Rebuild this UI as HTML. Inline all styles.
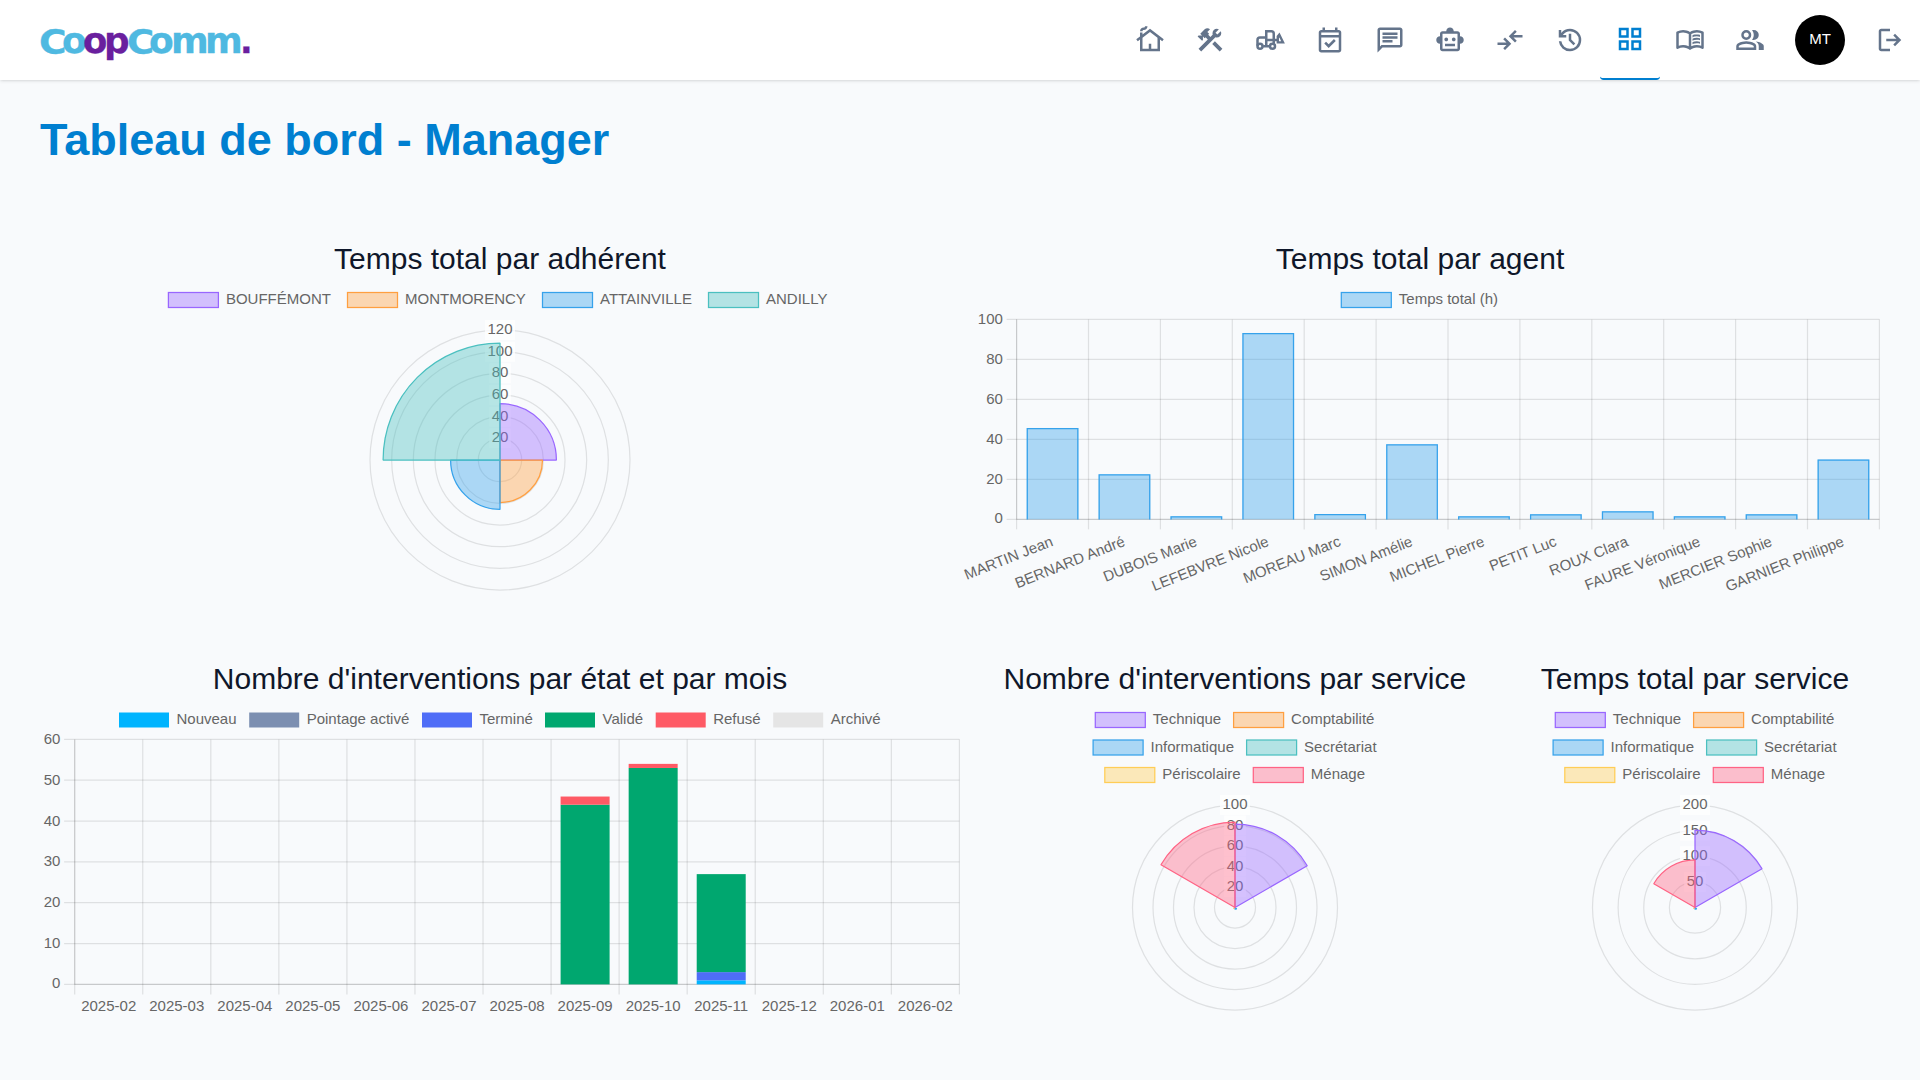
<!DOCTYPE html>
<html lang="fr"><head><meta charset="utf-8"><title>Tableau de bord - Manager</title>
<style>
html,body{margin:0;padding:0}
body{width:1920px;height:1080px;overflow:hidden;position:relative;background:#f8fafc;font-family:"Liberation Sans", sans-serif;color:#0f172a}
header{position:absolute;left:0;top:0;width:1920px;height:80px;background:#fff;box-shadow:0 1.25px 3.75px 0 rgba(0,0,0,.1),0 1.25px 2.5px -1.25px rgba(0,0,0,.1)}
.logo{position:absolute;left:0;top:0;width:260px;height:80px;font-family:"DejaVu Sans","Liberation Sans",sans-serif;font-weight:bold;white-space:nowrap}
.logo span{position:absolute;display:block;line-height:40px;transform-origin:left center;-webkit-text-stroke:0.3px currentColor}
.ic{position:absolute;top:25px}
.active{position:absolute;left:1600px;top:0;width:60px;height:78px;border-bottom:2px solid #007fd0;border-radius:3.75px}
.avatar{position:absolute;left:1795px;top:15px;width:50px;height:50px;border-radius:50%;background:#000;color:#fff;font-size:15px;line-height:47.8px;text-align:center}
h1{position:absolute;left:40px;top:112px;margin:0;font-size:45px;line-height:56px;font-weight:bold;color:#007fd0;white-space:nowrap}
.ct{position:absolute;margin:0;font-weight:normal;font-size:30px;line-height:40px;text-align:center;white-space:nowrap;color:#0f172a}
.charts{position:absolute;left:0;top:0}
</style></head><body>
<header>
<div class="logo" aria-label="CoopComm."><span style="left:39.0px;top:22.78px;font-size:33.2px;color:#4fb9e1;transform:scaleX(1.133)">C</span><span style="left:62.43px;top:21.49px;font-size:35.2px;color:#4fb9e1;transform:scaleX(1.023)">o</span><span style="left:83.46px;top:21.49px;font-size:35.2px;color:#6a1f9e;transform:scaleX(1.008)">o</span><span style="left:104.28px;top:21.49px;font-size:35.2px;color:#6a1f9e;transform:scaleX(1.019)">p</span><span style="left:127.37px;top:22.78px;font-size:33.2px;color:#4fb9e1;transform:scaleX(1.119)">C</span><span style="left:149.4px;top:21.49px;font-size:35.2px;color:#4fb9e1;transform:scaleX(1.024)">o</span><span style="left:170.61px;top:21.05px;font-size:35.2px;color:#4fb9e1;transform:scaleX(1.029)">m</span><span style="left:205.11px;top:21.05px;font-size:35.2px;color:#4fb9e1;transform:scaleX(1.029)">m</span><span style="left:239.52px;top:22.05px;font-size:33.2px;color:#6a1f9e;transform:scaleX(1.004)">.</span></div>
<nav>
<div class="active"></div>
<svg class="ic" style="left:1135px;color:#64748b" viewBox="0 0 24 24" width="30" height="30" fill="currentColor"><path d="M12 3 6 7.58V6H4v3.11L1 11.4l1.21 1.59L4 11.62V21h16v-9.38l1.79 1.36L23 11.4 12 3zm6 16h-5v-4h-2v4H6v-8.900l6-4.580 6 4.580V19zM10 1c0 1.660-1.340 3-3 3-.55 0-1 .45-1 1H4c0-1.660 1.340-3 3-3 .55 0 1-.45 1-1h2z"/></svg><svg class="ic" style="left:1195px;color:#64748b" viewBox="0 0 24 24" width="30" height="30" fill="currentColor"><path d="M13.783 15.172l2.121-2.121 5.996 5.996-2.121 2.121zM17.5 10c1.930 0 3.500-1.570 3.500-3.500 0-.58-.16-1.120-.41-1.600l-2.700 2.700-1.490-1.490 2.700-2.700c-.48-.25-1.020-.41-1.600-.41C15.570 3 14 4.570 14 6.500c0 .41.080.8.210 1.160l-1.850 1.850-1.780-1.780.71-.71-1.410-1.410L12 3.490c-1.170-1.170-3.070-1.170-4.240 0L4.220 7.030l1.410 1.410H2.810l-.71.71 3.540 3.540.71-.71V9.150l1.410 1.410.71-.71 1.780 1.780-7.410 7.410 2.120 2.120L16.340 9.790c.36.130.75.210 1.160.21z"/></svg><svg class="ic" style="left:1255px;color:#64748b" viewBox="0 0 24 24" width="30" height="30" fill="currentColor"><g fill="none" stroke="currentColor" stroke-width="2"><path d="M9 10H4a2 2 0 0 0-2 2v4.500"/><path d="M9 17V5h4a2 2 0 0 1 2 2v8"/><path d="M9 12h9"/><path d="M6.500 17h5"/><circle cx="4" cy="17" r="2"/><circle cx="14" cy="17" r="2"/></g><path fill-rule="evenodd" d="M17.300 14.700V8.800L19.600 5.900 23.900 14.700ZM19.200 12.900V10.300L19.500 9.900 20.900 12.900Z"/></svg><svg class="ic" style="left:1315px;color:#64748b" viewBox="0 -960 960 960" width="30" height="30" fill="currentColor"><path d="M438-226 296-368l58-58 84 84 168-168 58 58-226 226ZM200-80q-33 0-56.500-23.500T120-160v-560q0-33 23.500-56.500T200-800h40v-80h80v80h320v-80h80v80h40q33 0 56.500 23.500T840-720v560q0 33-23.500 56.500T760-80H200Zm0-80h560v-400H200v400Zm0-480h560v-80H200v80Zm0 0v-80 80Z"/></svg><svg class="ic" style="left:1375px;color:#64748b" viewBox="0 0 24 24" width="30" height="30" fill="currentColor"><path d="M4 4h16v12H5.170L4 17.170V4m0-2c-1.100 0-1.990.9-1.990 2L2 22l4-4h14c1.100 0 2-.9 2-2V4c0-1.100-.9-2-2-2H4zm2 10h8v2H6v-2zm0-3h12v2H6V9zm0-3h12v2H6V6z"/></svg><svg class="ic" style="left:1435px;color:#64748b" viewBox="0 0 24 24" width="30" height="30" fill="currentColor"><path d="M20 9V7c0-1.100-.9-2-2-2h-3c0-1.660-1.340-3-3-3S9 3.340 9 5H6c-1.100 0-2 .9-2 2v2c-1.660 0-3 1.340-3 3s1.340 3 3 3v4c0 1.100.9 2 2 2h12c1.100 0 2-.9 2-2v-4c1.660 0 3-1.340 3-3s-1.340-3-3-3zm-2 10H6V7h12v12zm-9-6c-.83 0-1.500-.67-1.500-1.500S8.170 10 9 10s1.500.67 1.500 1.500S9.830 13 9 13zm7.500-1.500c0 .83-.67 1.500-1.500 1.500s-1.500-.67-1.500-1.500.67-1.500 1.500-1.500 1.500.67 1.500 1.500zM8 15h8v2H8v-2z"/></svg><svg class="ic" style="left:1495px;color:#64748b" viewBox="0 -960 960 960" width="30" height="30" fill="currentColor"><path d="M320-160l-56-57 103-103H80v-80h287L264-503l56-57 200 200-200 200Zm320-240L440-600l200-200 56 57-103 103h287v80H593l103 103-56 57Z"/></svg><svg class="ic" style="left:1555px;color:#64748b" viewBox="0 -960 960 960" width="30" height="30" fill="currentColor"><path d="M480-120q-138 0-240.500-91.500T122-440h82q14 104 92.500 172T480-200q117 0 198.500-81.500T760-480q0-117-81.500-198.500T480-760q-69 0-129 32t-101 88h110v80H120v-240h80v94q51-64 124.500-99T480-840q75 0 140.500 28.500t114 77q48.500 48.500 77 114T840-480q0 75-28.500 140.500t-77 114q-48.500 48.500-114 77T480-120Zm112-192L440-464v-216h80v184l128 128-56 56Z"/></svg><svg class="ic" style="left:1615px;top:24px;color:#007fd0" viewBox="0 0 24 24" width="30" height="30" fill="currentColor"><path d="M3 3v8h8V3H3zm6 6H5V5h4v4zm-6 4v8h8v-8H3zm6 6H5v-4h4v4zm4-16v8h8V3h-8zm6 6h-4V5h4v4zm-6 4v8h8v-8h-8zm6 6h-4v-4h4v4z"/></svg><svg class="ic" style="left:1675px;color:#64748b" viewBox="0 -960 960 960" width="30" height="30" fill="currentColor"><path d="M560-564v-68q33-14 67.500-21t72.500-7q26 0 51 4t49 10v64q-24-9-48.500-13.500T700-600q-38 0-73 9.500T560-564Zm0 220v-68q33-14 67.500-21t72.500-7q26 0 51 4t49 10v64q-24-9-48.500-13.500T700-380q-38 0-73 9t-67 27Zm0-110v-68q33-14 67.500-21t72.500-7q26 0 51 4t49 10v64q-24-9-48.500-13.500T700-490q-38 0-73 9.500T560-454ZM260-320q47 0 91.500 10.500T440-278v-394q-41-24-87-36t-93-12q-36 0-71.500 7T120-692v396q35-12 69.500-18t70.500-6Zm260 42q44-21 88.500-31.500T700-320q36 0 70.500 6t69.500 18v-396q-33-14-68.500-21t-71.500-7q-47 0-93 12t-87 36v394Zm-40 118q-48-38-104-59t-116-21q-42 0-82.500 11T100-198q-21 11-40.500-1T40-234v-482q0-11 5.500-21T62-752q46-24 96-36t102-12q58 0 113.500 15T480-740q51-30 106.500-45T700-800q52 0 102 12t96 36q11 5 16.500 15t5.500 21v482q0 23-19.500 35t-40.500 1q-37-20-77.500-31T700-240q-60 0-116 21t-104 59ZM280-494Z"/></svg><svg class="ic" style="left:1735px;color:#64748b" viewBox="0 -960 960 960" width="30" height="30" fill="currentColor"><path d="M40-160v-112q0-34 17.500-62.500T104-378q62-31 126-46.500T360-440q66 0 130 15.500T616-378q29 15 46.500 43.500T680-272v112H40Zm720 0v-120q0-44-24.500-84.500T666-434q51 6 96 20.500t84 35.500q36 20 55 44.500t19 53.500v120H760ZM360-480q-66 0-113-47t-47-113q0-66 47-113t113-47q66 0 113 47t47 113q0 66-47 113t-113 47Zm400-160q0 66-47 113t-113 47q-11 0-28-2.500t-28-5.500q27-32 41.500-71t14.500-81q0-42-14.500-81T544-792q14-5 28-6.500t28-1.500q66 0 113 47t47 113ZM120-240h480v-32q0-11-5.500-20T580-306q-54-27-109-40.500T360-360q-56 0-111 13.500T140-306q-9 5-14.500 14t-5.500 20v32Zm240-320q33 0 56.500-23.500T440-640q0-33-23.500-56.500T360-720q-33 0-56.500 23.500T280-640q0 33 23.500 56.500T360-560Zm0 320Zm0-400Z"/></svg><svg class="ic" style="left:1875px;color:#64748b" viewBox="0 -960 960 960" width="30" height="30" fill="currentColor"><path d="M200-120q-33 0-56.500-23.500T120-200v-560q0-33 23.500-56.500T200-840h280v80H200v560h280v80H200Zm440-160-55-58 102-102H360v-80h327L585-622l55-58 200 200-200 200Z"/></svg>
<div class="avatar">MT</div>
</nav>
</header>
<main>
<h1>Tableau de bord - Manager</h1>
<h2 class="ct" style="left:40px;width:920px;top:239px">Temps total par adhérent</h2>
<h2 class="ct" style="left:960px;width:920px;top:239px">Temps total par agent</h2>
<h2 class="ct" style="left:40px;width:920px;top:659px">Nombre d'interventions par état et par mois</h2>
<h2 class="ct" style="left:1003.5px;width:460px;top:659px">Nombre d'interventions par service</h2>
<h2 class="ct" style="left:1465px;width:460px;top:659px">Temps total par service</h2>
<svg class="charts" width="1920" height="1080" viewBox="0 0 1920 1080" font-family='"Liberation Sans", sans-serif'><g>
<rect x="168.40" y="292.50" width="50" height="15" fill="rgba(153,102,255,0.4)" stroke="rgb(153,102,255)" stroke-width="1.25"/>
<text x="225.90" y="304.10" text-anchor="start" font-size="15" fill="#666" >BOUFFÉMONT</text>
<rect x="347.50" y="292.50" width="50" height="15" fill="rgba(255,159,64,0.4)" stroke="rgb(255,159,64)" stroke-width="1.25"/>
<text x="405.00" y="304.10" text-anchor="start" font-size="15" fill="#666" >MONTMORENCY</text>
<rect x="542.50" y="292.50" width="50" height="15" fill="rgba(54,162,235,0.4)" stroke="rgb(54,162,235)" stroke-width="1.25"/>
<text x="600.00" y="304.10" text-anchor="start" font-size="15" fill="#666" >ATTAINVILLE</text>
<rect x="708.50" y="292.50" width="50" height="15" fill="rgba(75,192,192,0.4)" stroke="rgb(75,192,192)" stroke-width="1.25"/>
<text x="766.00" y="304.10" text-anchor="start" font-size="15" fill="#666" >ANDILLY</text>
<circle cx="500" cy="460" r="21.67" fill="none" stroke="rgba(0,0,0,0.1)" stroke-width="1.25"/>
<circle cx="500" cy="460" r="43.33" fill="none" stroke="rgba(0,0,0,0.1)" stroke-width="1.25"/>
<circle cx="500" cy="460" r="65.00" fill="none" stroke="rgba(0,0,0,0.1)" stroke-width="1.25"/>
<circle cx="500" cy="460" r="86.67" fill="none" stroke="rgba(0,0,0,0.1)" stroke-width="1.25"/>
<circle cx="500" cy="460" r="108.33" fill="none" stroke="rgba(0,0,0,0.1)" stroke-width="1.25"/>
<circle cx="500" cy="460" r="130.00" fill="none" stroke="rgba(0,0,0,0.1)" stroke-width="1.25"/>
<rect x="489.16" y="428.33" width="21.68" height="20" fill="rgba(255,255,255,0.75)"/>
<rect x="489.16" y="406.67" width="21.68" height="20" fill="rgba(255,255,255,0.75)"/>
<rect x="489.16" y="385.00" width="21.68" height="20" fill="rgba(255,255,255,0.75)"/>
<rect x="489.16" y="363.33" width="21.68" height="20" fill="rgba(255,255,255,0.75)"/>
<rect x="484.99" y="341.67" width="30.02" height="20" fill="rgba(255,255,255,0.75)"/>
<rect x="484.99" y="320.00" width="30.02" height="20" fill="rgba(255,255,255,0.75)"/>
<text x="500.00" y="442.43" text-anchor="middle" font-size="15" fill="#666" >20</text>
<text x="500.00" y="420.77" text-anchor="middle" font-size="15" fill="#666" >40</text>
<text x="500.00" y="399.10" text-anchor="middle" font-size="15" fill="#666" >60</text>
<text x="500.00" y="377.43" text-anchor="middle" font-size="15" fill="#666" >80</text>
<text x="500.00" y="355.77" text-anchor="middle" font-size="15" fill="#666" >100</text>
<text x="500.00" y="334.10" text-anchor="middle" font-size="15" fill="#666" >120</text>
<path d="M500.00 403.60A56.40 56.40 0 0 1 556.40 460.00L500.00 460.00Z" fill="rgba(153,102,255,0.4)" stroke="rgb(153,102,255)" stroke-width="1.25" stroke-linejoin="bevel"/>
<path d="M542.50 460.00A42.50 42.50 0 0 1 500.00 502.50L500.00 460.00Z" fill="rgba(255,159,64,0.4)" stroke="rgb(255,159,64)" stroke-width="1.25" stroke-linejoin="bevel"/>
<path d="M500.00 509.40A49.40 49.40 0 0 1 450.60 460.00L500.00 460.00Z" fill="rgba(54,162,235,0.4)" stroke="rgb(54,162,235)" stroke-width="1.25" stroke-linejoin="bevel"/>
<path d="M383.10 460.00A116.90 116.90 0 0 1 500.00 343.10L500.00 460.00Z" fill="rgba(75,192,192,0.4)" stroke="rgb(75,192,192)" stroke-width="1.25" stroke-linejoin="bevel"/>
</g>
<g>
<rect x="1341.30" y="292.50" width="50" height="15" fill="rgba(54,162,235,0.4)" stroke="rgb(54,162,235)" stroke-width="1.25"/>
<text x="1398.80" y="304.10" text-anchor="start" font-size="15" fill="#666" >Temps total (h)</text>
<line x1="1016.60" y1="319.375" x2="1016.60" y2="529.375" stroke="rgba(0,0,0,0.1)" stroke-width="1.25"/>
<line x1="1088.50" y1="319.375" x2="1088.50" y2="529.375" stroke="rgba(0,0,0,0.1)" stroke-width="1.25"/>
<line x1="1160.40" y1="319.375" x2="1160.40" y2="529.375" stroke="rgba(0,0,0,0.1)" stroke-width="1.25"/>
<line x1="1232.30" y1="319.375" x2="1232.30" y2="529.375" stroke="rgba(0,0,0,0.1)" stroke-width="1.25"/>
<line x1="1304.20" y1="319.375" x2="1304.20" y2="529.375" stroke="rgba(0,0,0,0.1)" stroke-width="1.25"/>
<line x1="1376.10" y1="319.375" x2="1376.10" y2="529.375" stroke="rgba(0,0,0,0.1)" stroke-width="1.25"/>
<line x1="1448.00" y1="319.375" x2="1448.00" y2="529.375" stroke="rgba(0,0,0,0.1)" stroke-width="1.25"/>
<line x1="1519.90" y1="319.375" x2="1519.90" y2="529.375" stroke="rgba(0,0,0,0.1)" stroke-width="1.25"/>
<line x1="1591.80" y1="319.375" x2="1591.80" y2="529.375" stroke="rgba(0,0,0,0.1)" stroke-width="1.25"/>
<line x1="1663.70" y1="319.375" x2="1663.70" y2="529.375" stroke="rgba(0,0,0,0.1)" stroke-width="1.25"/>
<line x1="1735.60" y1="319.375" x2="1735.60" y2="529.375" stroke="rgba(0,0,0,0.1)" stroke-width="1.25"/>
<line x1="1807.50" y1="319.375" x2="1807.50" y2="529.375" stroke="rgba(0,0,0,0.1)" stroke-width="1.25"/>
<line x1="1879.40" y1="319.375" x2="1879.40" y2="529.375" stroke="rgba(0,0,0,0.1)" stroke-width="1.25"/>
<line x1="1006.60" y1="519.375" x2="1879.40" y2="519.375" stroke="rgba(0,0,0,0.1)" stroke-width="1.25"/>
<text x="1002.85" y="522.98" text-anchor="end" font-size="15" fill="#666" >0</text>
<line x1="1006.60" y1="479.375" x2="1879.40" y2="479.375" stroke="rgba(0,0,0,0.1)" stroke-width="1.25"/>
<text x="1002.85" y="483.98" text-anchor="end" font-size="15" fill="#666" >20</text>
<line x1="1006.60" y1="439.375" x2="1879.40" y2="439.375" stroke="rgba(0,0,0,0.1)" stroke-width="1.25"/>
<text x="1002.85" y="443.98" text-anchor="end" font-size="15" fill="#666" >40</text>
<line x1="1006.60" y1="399.375" x2="1879.40" y2="399.375" stroke="rgba(0,0,0,0.1)" stroke-width="1.25"/>
<text x="1002.85" y="403.98" text-anchor="end" font-size="15" fill="#666" >60</text>
<line x1="1006.60" y1="359.375" x2="1879.40" y2="359.375" stroke="rgba(0,0,0,0.1)" stroke-width="1.25"/>
<text x="1002.85" y="363.98" text-anchor="end" font-size="15" fill="#666" >80</text>
<line x1="1006.60" y1="319.375" x2="1879.40" y2="319.375" stroke="rgba(0,0,0,0.1)" stroke-width="1.25"/>
<text x="1002.85" y="323.98" text-anchor="end" font-size="15" fill="#666" >100</text>
<line x1="1016.60" y1="319.375" x2="1016.60" y2="519.375" stroke="rgba(0,0,0,0.1)" stroke-width="1.25"/>
<line x1="1016.60" y1="519.375" x2="1879.40" y2="519.375" stroke="rgba(0,0,0,0.1)" stroke-width="1.25"/>
<rect x="1026.67" y="427.98" width="51.77" height="91.40" fill="rgba(54,162,235,0.4)"/>
<path d="M1027.29 519.38V428.60H1077.81V519.38" fill="none" stroke="rgb(54,162,235)" stroke-width="1.25"/>
<text transform="translate(1049.25 533.12) rotate(-21.67)" x="0" y="13.10" text-anchor="end" font-size="15" fill="#666">MARTIN Jean</text>
<rect x="1098.57" y="474.27" width="51.77" height="45.10" fill="rgba(54,162,235,0.4)"/>
<path d="M1099.19 519.38V474.90H1149.71V519.38" fill="none" stroke="rgb(54,162,235)" stroke-width="1.25"/>
<text transform="translate(1121.15 533.12) rotate(-21.67)" x="0" y="13.10" text-anchor="end" font-size="15" fill="#666">BERNARD André</text>
<rect x="1170.47" y="516.17" width="51.77" height="3.20" fill="rgba(54,162,235,0.4)"/>
<path d="M1171.09 519.38V516.80H1221.61V519.38" fill="none" stroke="rgb(54,162,235)" stroke-width="1.25"/>
<text transform="translate(1193.05 533.12) rotate(-21.67)" x="0" y="13.10" text-anchor="end" font-size="15" fill="#666">DUBOIS Marie</text>
<rect x="1242.37" y="332.98" width="51.77" height="186.40" fill="rgba(54,162,235,0.4)"/>
<path d="M1242.99 519.38V333.60H1293.51V519.38" fill="none" stroke="rgb(54,162,235)" stroke-width="1.25"/>
<text transform="translate(1264.95 533.12) rotate(-21.67)" x="0" y="13.10" text-anchor="end" font-size="15" fill="#666">LEFEBVRE Nicole</text>
<rect x="1314.27" y="514.08" width="51.77" height="5.30" fill="rgba(54,162,235,0.4)"/>
<path d="M1314.89 519.38V514.70H1365.41V519.38" fill="none" stroke="rgb(54,162,235)" stroke-width="1.25"/>
<text transform="translate(1336.85 533.12) rotate(-21.67)" x="0" y="13.10" text-anchor="end" font-size="15" fill="#666">MOREAU Marc</text>
<rect x="1386.17" y="444.27" width="51.77" height="75.10" fill="rgba(54,162,235,0.4)"/>
<path d="M1386.79 519.38V444.90H1437.31V519.38" fill="none" stroke="rgb(54,162,235)" stroke-width="1.25"/>
<text transform="translate(1408.75 533.12) rotate(-21.67)" x="0" y="13.10" text-anchor="end" font-size="15" fill="#666">SIMON Amélie</text>
<rect x="1458.07" y="516.27" width="51.77" height="3.10" fill="rgba(54,162,235,0.4)"/>
<path d="M1458.69 519.38V516.90H1509.21V519.38" fill="none" stroke="rgb(54,162,235)" stroke-width="1.25"/>
<text transform="translate(1480.65 533.12) rotate(-21.67)" x="0" y="13.10" text-anchor="end" font-size="15" fill="#666">MICHEL Pierre</text>
<rect x="1529.97" y="514.17" width="51.77" height="5.20" fill="rgba(54,162,235,0.4)"/>
<path d="M1530.59 519.38V514.80H1581.11V519.38" fill="none" stroke="rgb(54,162,235)" stroke-width="1.25"/>
<text transform="translate(1552.55 533.12) rotate(-21.67)" x="0" y="13.10" text-anchor="end" font-size="15" fill="#666">PETIT Luc</text>
<rect x="1601.87" y="511.27" width="51.77" height="8.10" fill="rgba(54,162,235,0.4)"/>
<path d="M1602.49 519.38V511.90H1653.01V519.38" fill="none" stroke="rgb(54,162,235)" stroke-width="1.25"/>
<text transform="translate(1624.45 533.12) rotate(-21.67)" x="0" y="13.10" text-anchor="end" font-size="15" fill="#666">ROUX Clara</text>
<rect x="1673.77" y="516.27" width="51.77" height="3.10" fill="rgba(54,162,235,0.4)"/>
<path d="M1674.39 519.38V516.90H1724.91V519.38" fill="none" stroke="rgb(54,162,235)" stroke-width="1.25"/>
<text transform="translate(1696.35 533.12) rotate(-21.67)" x="0" y="13.10" text-anchor="end" font-size="15" fill="#666">FAURE Véronique</text>
<rect x="1745.67" y="514.17" width="51.77" height="5.20" fill="rgba(54,162,235,0.4)"/>
<path d="M1746.29 519.38V514.80H1796.81V519.38" fill="none" stroke="rgb(54,162,235)" stroke-width="1.25"/>
<text transform="translate(1768.25 533.12) rotate(-21.67)" x="0" y="13.10" text-anchor="end" font-size="15" fill="#666">MERCIER Sophie</text>
<rect x="1817.57" y="459.48" width="51.77" height="59.90" fill="rgba(54,162,235,0.4)"/>
<path d="M1818.19 519.38V460.10H1868.71V519.38" fill="none" stroke="rgb(54,162,235)" stroke-width="1.25"/>
<text transform="translate(1840.15 533.12) rotate(-21.67)" x="0" y="13.10" text-anchor="end" font-size="15" fill="#666">GARNIER Philippe</text>
</g>
<g>
<rect x="119.00" y="712.50" width="50" height="15" fill="#00b4fe"/>
<text x="176.50" y="724.10" text-anchor="start" font-size="15" fill="#666" >Nouveau</text>
<rect x="249.20" y="712.50" width="50" height="15" fill="#7c8fb1"/>
<text x="306.70" y="724.10" text-anchor="start" font-size="15" fill="#666" >Pointage activé</text>
<rect x="422.00" y="712.50" width="50" height="15" fill="#4f6df7"/>
<text x="479.50" y="724.10" text-anchor="start" font-size="15" fill="#666" >Terminé</text>
<rect x="545.00" y="712.50" width="50" height="15" fill="#00a76f"/>
<text x="602.50" y="724.10" text-anchor="start" font-size="15" fill="#666" >Validé</text>
<rect x="655.70" y="712.50" width="50" height="15" fill="#fe5a65"/>
<text x="713.20" y="724.10" text-anchor="start" font-size="15" fill="#666" >Refusé</text>
<rect x="773.20" y="712.50" width="50" height="15" fill="#e5e5e5"/>
<text x="830.70" y="724.10" text-anchor="start" font-size="15" fill="#666" >Archivé</text>
<line x1="74.70" y1="739.375" x2="74.70" y2="994.375" stroke="rgba(0,0,0,0.1)" stroke-width="1.25"/>
<line x1="142.75" y1="739.375" x2="142.75" y2="994.375" stroke="rgba(0,0,0,0.1)" stroke-width="1.25"/>
<line x1="210.81" y1="739.375" x2="210.81" y2="994.375" stroke="rgba(0,0,0,0.1)" stroke-width="1.25"/>
<line x1="278.86" y1="739.375" x2="278.86" y2="994.375" stroke="rgba(0,0,0,0.1)" stroke-width="1.25"/>
<line x1="346.92" y1="739.375" x2="346.92" y2="994.375" stroke="rgba(0,0,0,0.1)" stroke-width="1.25"/>
<line x1="414.97" y1="739.375" x2="414.97" y2="994.375" stroke="rgba(0,0,0,0.1)" stroke-width="1.25"/>
<line x1="483.02" y1="739.375" x2="483.02" y2="994.375" stroke="rgba(0,0,0,0.1)" stroke-width="1.25"/>
<line x1="551.08" y1="739.375" x2="551.08" y2="994.375" stroke="rgba(0,0,0,0.1)" stroke-width="1.25"/>
<line x1="619.13" y1="739.375" x2="619.13" y2="994.375" stroke="rgba(0,0,0,0.1)" stroke-width="1.25"/>
<line x1="687.18" y1="739.375" x2="687.18" y2="994.375" stroke="rgba(0,0,0,0.1)" stroke-width="1.25"/>
<line x1="755.24" y1="739.375" x2="755.24" y2="994.375" stroke="rgba(0,0,0,0.1)" stroke-width="1.25"/>
<line x1="823.29" y1="739.375" x2="823.29" y2="994.375" stroke="rgba(0,0,0,0.1)" stroke-width="1.25"/>
<line x1="891.35" y1="739.375" x2="891.35" y2="994.375" stroke="rgba(0,0,0,0.1)" stroke-width="1.25"/>
<line x1="959.40" y1="739.375" x2="959.40" y2="994.375" stroke="rgba(0,0,0,0.1)" stroke-width="1.25"/>
<line x1="64.10" y1="984.38" x2="959.40" y2="984.38" stroke="rgba(0,0,0,0.1)" stroke-width="1.25"/>
<text x="60.35" y="987.98" text-anchor="end" font-size="15" fill="#666" >0</text>
<line x1="64.10" y1="943.54" x2="959.40" y2="943.54" stroke="rgba(0,0,0,0.1)" stroke-width="1.25"/>
<text x="60.35" y="948.14" text-anchor="end" font-size="15" fill="#666" >10</text>
<line x1="64.10" y1="902.71" x2="959.40" y2="902.71" stroke="rgba(0,0,0,0.1)" stroke-width="1.25"/>
<text x="60.35" y="907.31" text-anchor="end" font-size="15" fill="#666" >20</text>
<line x1="64.10" y1="861.88" x2="959.40" y2="861.88" stroke="rgba(0,0,0,0.1)" stroke-width="1.25"/>
<text x="60.35" y="866.48" text-anchor="end" font-size="15" fill="#666" >30</text>
<line x1="64.10" y1="821.04" x2="959.40" y2="821.04" stroke="rgba(0,0,0,0.1)" stroke-width="1.25"/>
<text x="60.35" y="825.64" text-anchor="end" font-size="15" fill="#666" >40</text>
<line x1="64.10" y1="780.21" x2="959.40" y2="780.21" stroke="rgba(0,0,0,0.1)" stroke-width="1.25"/>
<text x="60.35" y="784.81" text-anchor="end" font-size="15" fill="#666" >50</text>
<line x1="64.10" y1="739.38" x2="959.40" y2="739.38" stroke="rgba(0,0,0,0.1)" stroke-width="1.25"/>
<text x="60.35" y="743.98" text-anchor="end" font-size="15" fill="#666" >60</text>
<line x1="74.70" y1="739.375" x2="74.70" y2="984.375" stroke="rgba(0,0,0,0.1)" stroke-width="1.25"/>
<line x1="74.70" y1="984.375" x2="959.40" y2="984.375" stroke="rgba(0,0,0,0.1)" stroke-width="1.25"/>
<text x="108.73" y="1011.23" text-anchor="middle" font-size="15" fill="#666" >2025-02</text>
<text x="176.78" y="1011.23" text-anchor="middle" font-size="15" fill="#666" >2025-03</text>
<text x="244.83" y="1011.23" text-anchor="middle" font-size="15" fill="#666" >2025-04</text>
<text x="312.89" y="1011.23" text-anchor="middle" font-size="15" fill="#666" >2025-05</text>
<text x="380.94" y="1011.23" text-anchor="middle" font-size="15" fill="#666" >2025-06</text>
<text x="449.00" y="1011.23" text-anchor="middle" font-size="15" fill="#666" >2025-07</text>
<text x="517.05" y="1011.23" text-anchor="middle" font-size="15" fill="#666" >2025-08</text>
<text x="585.10" y="1011.23" text-anchor="middle" font-size="15" fill="#666" >2025-09</text>
<rect x="560.60" y="804.71" width="49.00" height="179.67" fill="#00a76f"/>
<rect x="560.60" y="796.54" width="49.00" height="8.17" fill="#fe5a65"/>
<text x="653.16" y="1011.23" text-anchor="middle" font-size="15" fill="#666" >2025-10</text>
<rect x="628.66" y="767.96" width="49.00" height="216.42" fill="#00a76f"/>
<rect x="628.66" y="763.88" width="49.00" height="4.08" fill="#fe5a65"/>
<text x="721.21" y="1011.23" text-anchor="middle" font-size="15" fill="#666" >2025-11</text>
<rect x="696.71" y="980.29" width="49.00" height="4.08" fill="#00b4fe"/>
<rect x="696.71" y="972.12" width="49.00" height="8.17" fill="#4f6df7"/>
<rect x="696.71" y="874.12" width="49.00" height="98.00" fill="#00a76f"/>
<text x="789.27" y="1011.23" text-anchor="middle" font-size="15" fill="#666" >2025-12</text>
<text x="857.32" y="1011.23" text-anchor="middle" font-size="15" fill="#666" >2026-01</text>
<text x="925.37" y="1011.23" text-anchor="middle" font-size="15" fill="#666" >2026-02</text>
</g>
<g>
<rect x="1095.30" y="712.50" width="50" height="15" fill="rgba(153,102,255,0.4)" stroke="rgb(153,102,255)" stroke-width="1.25"/>
<text x="1152.80" y="724.10" text-anchor="start" font-size="15" fill="#666" >Technique</text>
<rect x="1233.60" y="712.50" width="50" height="15" fill="rgba(255,159,64,0.4)" stroke="rgb(255,159,64)" stroke-width="1.25"/>
<text x="1291.10" y="724.10" text-anchor="start" font-size="15" fill="#666" >Comptabilité</text>
<rect x="1093.10" y="740.00" width="50" height="15" fill="rgba(54,162,235,0.4)" stroke="rgb(54,162,235)" stroke-width="1.25"/>
<text x="1150.60" y="751.60" text-anchor="start" font-size="15" fill="#666" >Informatique</text>
<rect x="1246.60" y="740.00" width="50" height="15" fill="rgba(75,192,192,0.4)" stroke="rgb(75,192,192)" stroke-width="1.25"/>
<text x="1304.10" y="751.60" text-anchor="start" font-size="15" fill="#666" >Secrétariat</text>
<rect x="1104.80" y="767.50" width="50" height="15" fill="rgba(255,205,86,0.4)" stroke="rgb(255,205,86)" stroke-width="1.25"/>
<text x="1162.30" y="779.10" text-anchor="start" font-size="15" fill="#666" >Périscolaire</text>
<rect x="1253.30" y="767.50" width="50" height="15" fill="rgba(255,99,132,0.4)" stroke="rgb(255,99,132)" stroke-width="1.25"/>
<text x="1310.80" y="779.10" text-anchor="start" font-size="15" fill="#666" >Ménage</text>
<circle cx="1235" cy="907.5" r="20.50" fill="none" stroke="rgba(0,0,0,0.1)" stroke-width="1.25"/>
<circle cx="1235" cy="907.5" r="41.00" fill="none" stroke="rgba(0,0,0,0.1)" stroke-width="1.25"/>
<circle cx="1235" cy="907.5" r="61.50" fill="none" stroke="rgba(0,0,0,0.1)" stroke-width="1.25"/>
<circle cx="1235" cy="907.5" r="82.00" fill="none" stroke="rgba(0,0,0,0.1)" stroke-width="1.25"/>
<circle cx="1235" cy="907.5" r="102.50" fill="none" stroke="rgba(0,0,0,0.1)" stroke-width="1.25"/>
<rect x="1224.16" y="877.00" width="21.68" height="20" fill="rgba(255,255,255,0.75)"/>
<rect x="1224.16" y="856.50" width="21.68" height="20" fill="rgba(255,255,255,0.75)"/>
<rect x="1224.16" y="836.00" width="21.68" height="20" fill="rgba(255,255,255,0.75)"/>
<rect x="1224.16" y="815.50" width="21.68" height="20" fill="rgba(255,255,255,0.75)"/>
<rect x="1219.99" y="795.00" width="30.02" height="20" fill="rgba(255,255,255,0.75)"/>
<text x="1235.00" y="891.10" text-anchor="middle" font-size="15" fill="#666" >20</text>
<text x="1235.00" y="870.60" text-anchor="middle" font-size="15" fill="#666" >40</text>
<text x="1235.00" y="850.10" text-anchor="middle" font-size="15" fill="#666" >60</text>
<text x="1235.00" y="829.60" text-anchor="middle" font-size="15" fill="#666" >80</text>
<text x="1235.00" y="809.10" text-anchor="middle" font-size="15" fill="#666" >100</text>
<path d="M1235.00 824.10A83.40 83.40 0 0 1 1307.23 865.80L1235.00 907.50Z" fill="rgba(153,102,255,0.4)" stroke="rgb(153,102,255)" stroke-width="1.25" stroke-linejoin="bevel"/>
<ellipse cx="1235.60" cy="908.80" rx="1.5" ry="1.0" fill="rgb(54,162,235)"/>
<circle cx="1233.90" cy="908.20" r="0.8" fill="rgb(255,205,86)"/>
<path d="M1160.95 864.75A85.50 85.50 0 0 1 1235.00 822.00L1235.00 907.50Z" fill="rgba(255,99,132,0.4)" stroke="rgb(255,99,132)" stroke-width="1.25" stroke-linejoin="bevel"/>
</g>
<g>
<rect x="1555.30" y="712.50" width="50" height="15" fill="rgba(153,102,255,0.4)" stroke="rgb(153,102,255)" stroke-width="1.25"/>
<text x="1612.80" y="724.10" text-anchor="start" font-size="15" fill="#666" >Technique</text>
<rect x="1693.60" y="712.50" width="50" height="15" fill="rgba(255,159,64,0.4)" stroke="rgb(255,159,64)" stroke-width="1.25"/>
<text x="1751.10" y="724.10" text-anchor="start" font-size="15" fill="#666" >Comptabilité</text>
<rect x="1553.10" y="740.00" width="50" height="15" fill="rgba(54,162,235,0.4)" stroke="rgb(54,162,235)" stroke-width="1.25"/>
<text x="1610.60" y="751.60" text-anchor="start" font-size="15" fill="#666" >Informatique</text>
<rect x="1706.60" y="740.00" width="50" height="15" fill="rgba(75,192,192,0.4)" stroke="rgb(75,192,192)" stroke-width="1.25"/>
<text x="1764.10" y="751.60" text-anchor="start" font-size="15" fill="#666" >Secrétariat</text>
<rect x="1564.80" y="767.50" width="50" height="15" fill="rgba(255,205,86,0.4)" stroke="rgb(255,205,86)" stroke-width="1.25"/>
<text x="1622.30" y="779.10" text-anchor="start" font-size="15" fill="#666" >Périscolaire</text>
<rect x="1713.30" y="767.50" width="50" height="15" fill="rgba(255,99,132,0.4)" stroke="rgb(255,99,132)" stroke-width="1.25"/>
<text x="1770.80" y="779.10" text-anchor="start" font-size="15" fill="#666" >Ménage</text>
<circle cx="1695" cy="907.5" r="25.62" fill="none" stroke="rgba(0,0,0,0.1)" stroke-width="1.25"/>
<circle cx="1695" cy="907.5" r="51.25" fill="none" stroke="rgba(0,0,0,0.1)" stroke-width="1.25"/>
<circle cx="1695" cy="907.5" r="76.88" fill="none" stroke="rgba(0,0,0,0.1)" stroke-width="1.25"/>
<circle cx="1695" cy="907.5" r="102.50" fill="none" stroke="rgba(0,0,0,0.1)" stroke-width="1.25"/>
<rect x="1684.16" y="871.88" width="21.68" height="20" fill="rgba(255,255,255,0.75)"/>
<rect x="1679.99" y="846.25" width="30.02" height="20" fill="rgba(255,255,255,0.75)"/>
<rect x="1679.99" y="820.62" width="30.02" height="20" fill="rgba(255,255,255,0.75)"/>
<rect x="1679.99" y="795.00" width="30.02" height="20" fill="rgba(255,255,255,0.75)"/>
<text x="1695.00" y="885.98" text-anchor="middle" font-size="15" fill="#666" >50</text>
<text x="1695.00" y="860.35" text-anchor="middle" font-size="15" fill="#666" >100</text>
<text x="1695.00" y="834.73" text-anchor="middle" font-size="15" fill="#666" >150</text>
<text x="1695.00" y="809.10" text-anchor="middle" font-size="15" fill="#666" >200</text>
<path d="M1695.00 830.10A77.40 77.40 0 0 1 1762.03 868.80L1695.00 907.50Z" fill="rgba(153,102,255,0.4)" stroke="rgb(153,102,255)" stroke-width="1.25" stroke-linejoin="bevel"/>
<ellipse cx="1695.60" cy="908.80" rx="1.5" ry="1.0" fill="rgb(54,162,235)"/>
<circle cx="1693.90" cy="908.20" r="0.8" fill="rgb(255,205,86)"/>
<path d="M1653.78 883.70A47.60 47.60 0 0 1 1695.00 859.90L1695.00 907.50Z" fill="rgba(255,99,132,0.4)" stroke="rgb(255,99,132)" stroke-width="1.25" stroke-linejoin="bevel"/>
</g></svg>
</main>
</body></html>
